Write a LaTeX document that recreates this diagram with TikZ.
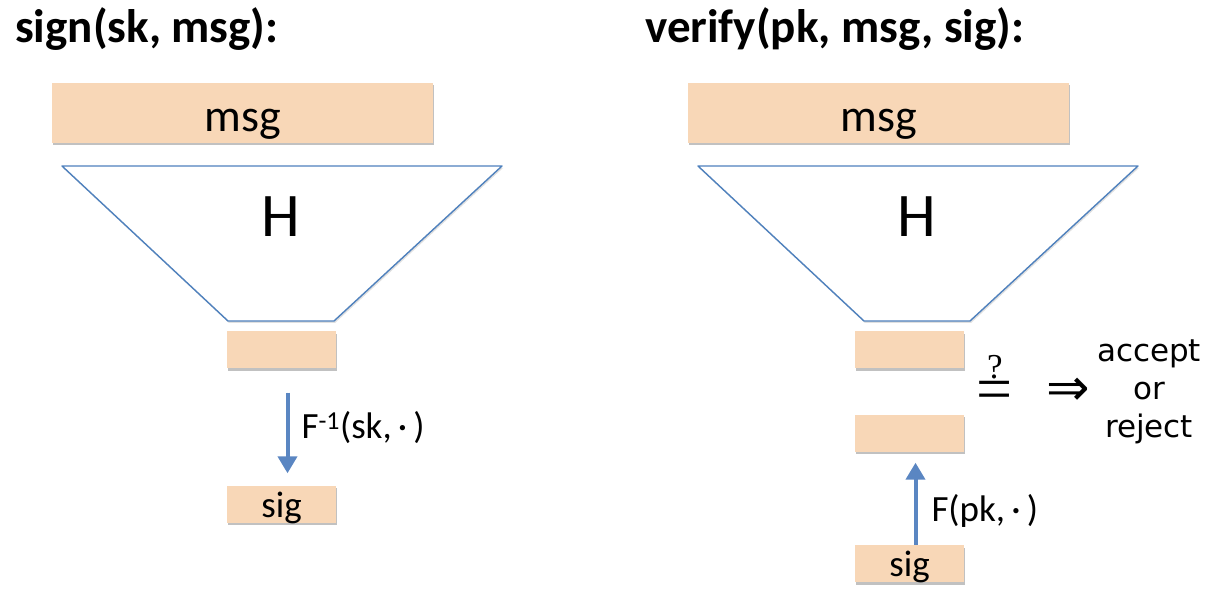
\documentclass[tikz,border=0pt]{standalone}
\usepackage{fontspec}
\setmainfont{Carlito}
\newfontfamily\verdictfamily{DejaVu Sans}
\newfontfamily\symbolfamily{Liberation Serif}
\usepackage{xcolor}
\usetikzlibrary{arrows.meta,positioning,shadows}
\definecolor{blockpeach}{HTML}{F8D7B7}
\definecolor{funnelblue}{HTML}{4F81BD}
\definecolor{arrowblue}{HTML}{5A86C2}
\tikzset{
  titletext/.style={anchor=base west,inner sep=0pt,font=\fontsize{47}{52}\selectfont\bfseries},
  blockshadow/.style={drop shadow={shadow xshift=1pt,shadow yshift=-2.5pt,opacity=.35,fill=black!70}},
  msgbox/.style={fill=blockpeach,blockshadow,minimum width=381pt,minimum height=60pt,inner sep=0pt,
    text height=38pt,text depth=0pt,font=\fontsize{46}{50}\selectfont},
  digestbox/.style={fill=blockpeach,blockshadow,minimum width=109pt,minimum height=37pt,inner sep=0pt,
    text height=26pt,text depth=0pt,font=\fontsize{37}{40}\selectfont},
  funnel/.style={draw=funnelblue,line width=1.4pt,fill=white,line join=round,drop shadow={shadow xshift=1pt,shadow yshift=-2pt,opacity=.2,fill=black!60}},
  hashtext/.style={inner sep=0pt,text depth=0pt,font=\fontsize{62}{70}\selectfont},
  maparrow/.style={-{Triangle[length=17pt,width=19pt]},draw=arrowblue,fill=arrowblue,line width=4pt},
  maplabel/.style={inner sep=0pt,font=\fontsize{37}{40}\selectfont},
  eqtext/.style={anchor=base,inner sep=0pt,text height=27pt,text depth=0pt,font=\symbolfamily\fontsize{64}{64}\selectfont},
  asktext/.style={anchor=base,inner sep=0pt,text depth=0pt,font=\symbolfamily\fontsize{35}{35}\selectfont},
  impliestext/.style={inner sep=0pt,font=\verdictfamily\fontsize{52}{56}\selectfont},
  verdict/.style={inner sep=0pt,align=center,font=\verdictfamily\fontsize{31}{38}\selectfont},
}
\begin{document}
\begin{tikzpicture}[x=1pt,y=-1pt]
\useasboundingbox (0,0) rectangle (1208,612);
% signing side
\node[titletext] (signtitle) at (15,43) {sign(sk, msg):};
\node[msgbox] (lmsg) at (242.5,113) {msg};
\draw[funnel] (62,166) -- (502,166) -- (334,321) -- (228,321) -- cycle;
\node[hashtext] (lhash) at (280.5,217) {H};
\node[digestbox] (ldigest) at (281.5,350) {};
\node[digestbox] (lsig) at (281.5,504) {sig};
\draw[maparrow] ([xshift=6pt,yshift=-24pt]ldigest.south) -- ([xshift=6pt,yshift=12pt]lsig.north)
  node[maplabel,midway,right=12pt,yshift=5pt] {F\textsuperscript{-1}(sk,\,·\,)};
% verifying side
\node[titletext] (verifytitle) at (645,43) {verify(pk, msg, sig):};
\node[msgbox] (rmsg) at (878.5,113) {msg};
\draw[funnel] (698,166) -- (1138,166) -- (970,321) -- (864,321) -- cycle;
\node[hashtext] (rhash) at (916.5,217) {H};
\node[digestbox] (rdigest) at (909.5,350) {};
\node[digestbox] (rimage) at (909.5,433) {};
\node[digestbox] (rsig) at (909.5,563.5) {sig};
\draw[maparrow] ([xshift=6pt]rsig.north) -- ([xshift=6pt,yshift=-11pt]rimage.south)
  node[maplabel,midway,right=14pt,yshift=-7pt] {F(pk,\,·\,)};
\node[eqtext] (compare) at (995,410) {=};
\node[asktext] (askmark) at (995,378) {?};
\node[impliestext] (implies) at (1068,392) {⇒};
\node[verdict] (outcome) at (1149,392) {accept\\or\\reject};
\end{tikzpicture}
\end{document}
